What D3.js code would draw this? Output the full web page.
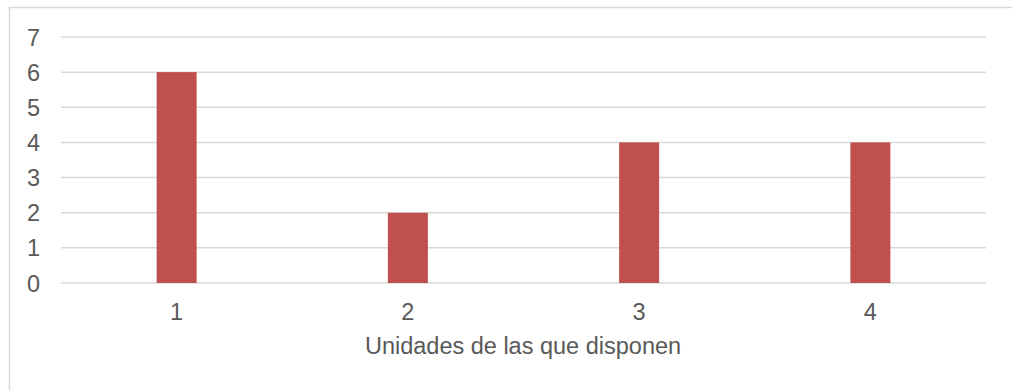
<!DOCTYPE html>
<html>
<head>
<meta charset="utf-8">
<script src="https://cdn.jsdelivr.net/npm/d3@7"></script>
<style>
  body { margin: 0; background: #fff; }
  text { font-family: "Liberation Sans", Arial, sans-serif; fill: #595959; }
</style>
</head>
<body>
<svg id="chart" width="1012" height="390"></svg>
<script>
// datos del gráfico
const categories = ["1", "2", "3", "4"];
const values = [6, 2, 4, 4];
const yTicks = [0, 1, 2, 3, 4, 5, 6, 7];
const xTitle = "Unidades de las que disponen";

const svg = d3.select("#chart");

// marco exterior
svg.append("rect")
  .attr("x", 9.5).attr("y", 7.5)
  .attr("width", 1010).attr("height", 400)
  .attr("fill", "none")
  .attr("stroke", "#d9d9d9")
  .attr("stroke-width", 1.5);

const plotLeft = 61, plotRight = 986, plotTop = 37, plotBottom = 283;

const x = d3.scaleBand().domain(categories).range([plotLeft, plotRight]).paddingInner(0).paddingOuter(0);
const y = d3.scaleLinear().domain([0, 7]).range([plotBottom, plotTop]);

// líneas de cuadrícula
svg.append("g")
  .selectAll("line")
  .data(yTicks)
  .join("line")
  .attr("x1", plotLeft).attr("x2", plotRight)
  .attr("y1", d => y(d)).attr("y2", d => y(d))
  .attr("stroke", "#d9d9d9")
  .attr("stroke-width", 1.5);

// etiquetas eje Y
svg.append("g")
  .selectAll("text")
  .data(yTicks)
  .join("text")
  .attr("x", 40)
  .attr("y", d => y(d) + 8.5)
  .attr("text-anchor", "end")
  .style("font-size", "23.5px")
  .text(d => d);

// barras
const barW = 40;
svg.append("g")
  .selectAll("rect")
  .data(values)
  .join("rect")
  .attr("x", (d, i) => x(categories[i]) + x.bandwidth() / 2 - barW / 2)
  .attr("y", d => y(d))
  .attr("width", barW)
  .attr("height", d => y(0) - y(d))
  .attr("fill", "#C0504D");

// etiquetas eje X
svg.append("g")
  .selectAll("text")
  .data(categories)
  .join("text")
  .attr("x", d => x(d) + x.bandwidth() / 2)
  .attr("y", 320)
  .attr("text-anchor", "middle")
  .style("font-size", "23.5px")
  .text(d => d);

// título del eje
svg.append("text")
  .attr("x", (plotLeft + plotRight) / 2 - 0.5)
  .attr("y", 354)
  .attr("text-anchor", "middle")
  .style("font-size", "23.5px")
  .text(xTitle);
</script>
</body>
</html>
